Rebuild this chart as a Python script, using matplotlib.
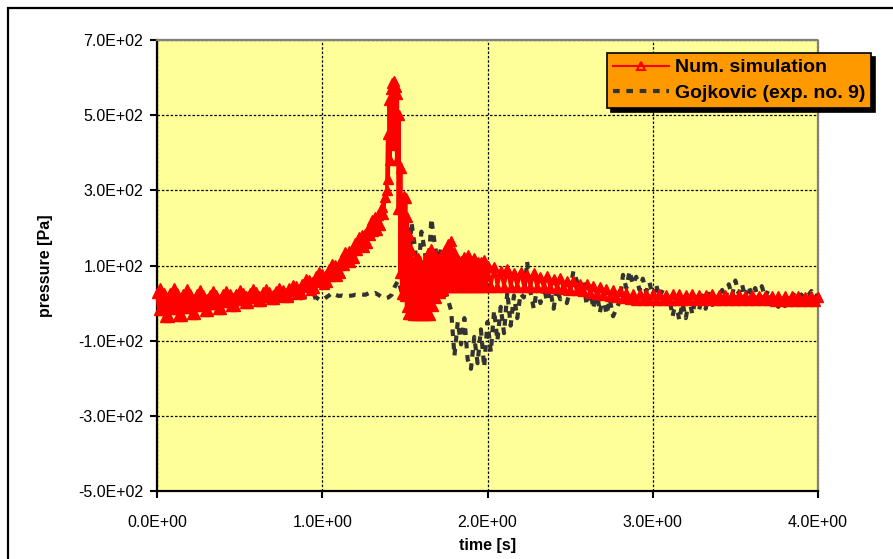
import numpy as np
import matplotlib
matplotlib.use("Agg")
import matplotlib.pyplot as plt
from matplotlib.lines import Line2D
from matplotlib.patches import Rectangle
from matplotlib.ticker import FuncFormatter

plt.rcParams['font.family'] = ['Liberation Sans', 'DejaVu Sans']

# --- Num. simulation in four pieces (start, step, values)
sim_a_start, sim_a_step = 0.00, 0.01
sim_a = [27, -18, 40, -18, 27, -36, 14, -36,
         27, -16, 40, -16, 27, -34, 14, -34,
         25, -13, 37, -13, 24, -28, 12, -28,
         23, -7, 34, -7, 22, -20, 11, -20,
         22, -3, 32, -3, 22, -15, 12, -15,
         23, 2, 33, 2, 24, -9, 14, -9,
         25, 7, 34, 7, 27, -1, 18, -1,
         28, 14, 37, 14, 29, 5, 20, 5,
         30, 20, 38, 20, 30, 10, 22, 10,
         31, 25, 39, 25, 34, 16, 26, 16,
         39, 31, 47, 32, 45, 25, 37, 27,
         52, 42, 63, 45, 61, 35, 57, 39,
         71, 55, 83, 58, 78, 50, 75, 56,
         90, 73, 104, 79, 102, 73, 101, 81,
         119, 101, 136, 111, 138, 109, 140, 119,
         159, 142, 177, 152, 181, 150, 183, 160,
         203, 182, 222, 193, 228, 195, 234, 209,
         256, 236, 281]

sim_b_start, sim_b_step = 1.39, 0.005
sim_b = [300, 450, 330, 540, 380, 570, 420, 585, 450, 590,
         430, 575, 380, 555, 250, 500, 80, 360, 25, 250,
         25, 285, 20, 280, -10, 230, -28, 180, -30]

sim_c_start, sim_c_step = 1.54, 0.01
sim_c = [142, -31, 117, -31, 121, -31, 102, -31, 112, -31,
         132, -31, 143, -9, 127, 13, 117, 26, 127, 36,
         142, 42, 157, 44, 164, 44, 137, 44, 114, 44,
         112, 44, 122, 44, 127, 44, 112, 44, 121, 44,
         110, 44, 108, 44, 114, 44, 100]

sim_d_start, sim_d_step = 2.02, 0.02
sim_d = [44, 95, 44, 86, 44, 90, 44, 80, 44, 84,
         44, 75, 44, 79, 43, 70, 42, 73, 41, 64,
         40, 66, 38, 58, 36, 60, 34, 52, 31, 52,
         28, 45, 25, 43, 22, 38, 19, 35, 16, 31,
         13, 28, 11, 25, 9, 24, 8, 24, 8, 23,
         8, 24, 9, 22, 8, 23, 9, 23, 8, 22,
         9, 23, 9, 22, 8, 22, 9, 23, 9, 21,
         9, 22, 8, 21, 9, 21, 8, 20, 8, 21,
         7, 20, 7, 19, 7, 20, 6, 19, 6, 18,
         6, 19, 5, 18, 5, 17, 5, 18, 5, 17]

# --- Gojkovic (exp. no. 9), step 0.02 s from 0
exp_start, exp_step = 0.0, 0.02
exp_p = [0, 2, -1, 1, 3, 0, 2, 4, 1, 3, 2, 4, 3, 1, 4, 3, 5, 2, 4, 6,
         3, 5, 4, 6, 5, 3, 6, 5, 7, 4, 6, 5, 7, 6, 4, 6, 5, 7,
         5, 6, 8, 9, 11, 12, 14, 15, 14, 13, 16, 10, 8, 14, 20, 27, 22, 19,
         20, 18, 19, 20, 22, 21, 23, 22, 26, 24, 27, 22, 16, 13, 15, 22, 45,
         60, 30, 95, 40, 215, 150, 70, 190, 140, 60, 225, 160, 100,
         150, 40, 10, -20, -140, -50, -110, -40, -150, -175, -90, -160, -70,
         -170, -50, -130, -20, -100, -10, -80, 30, -60, 20, -40, 25,
         15, 110, 30, -15, 40, 0, 45, 5, 35, -15, 40, 10, 50, 0, 35,
         85, 60, 15, 60, -5, 45, -15, 35, -25, 20, -30, 10, -35, -15, 5,
         75, 40, 85, 50, 70, 35, 65, 30, 55, 20, 50, 15, 35,
         -10, 15, -35, 5, -45, 0, -40, 10, -30, 15, -20, 20, -15, 25, -5, 20, 5,
         35, 10, 50, 20, 60, 25, 50, 15, 45, 20, 40, 10, 45, 15, 35, 5,
         0, -10, 8, -8, 12, 15, 28, 32, 18, 30, 20, 32, 12, 25]

x_ticks = [0, 1, 2, 3, 4]
y_ticks = [-500, -300, -100, 100, 300, 500, 700]


def times(start, step, vals):
    return start + step * np.arange(len(vals))


sim_t = np.concatenate([times(sim_a_start, sim_a_step, sim_a),
                        times(sim_b_start, sim_b_step, sim_b),
                        times(sim_c_start, sim_c_step, sim_c),
                        times(sim_d_start, sim_d_step, sim_d)])
sim_p = np.array(sim_a + sim_b + sim_c + sim_d, dtype=float)
exp_t = times(exp_start, exp_step, exp_p)

fig = plt.figure(figsize=(8.93, 5.59), dpi=100)
ax = fig.add_axes([157 / 893, 68 / 559, 661 / 893, 451 / 559])
ax.set_facecolor('#FFFF99')

exp_line, = ax.plot(exp_t, exp_p, color='#333333', lw=3,
                    linestyle=(0, (1.6, 1.6)), zorder=2, clip_on=False)
ax.plot(sim_t, sim_p, color='#FF0000', lw=2.4, marker='^', markersize=6.5,
        markerfacecolor='#FF0000', markeredgecolor='#FF0000',
        markeredgewidth=1.0, zorder=3, clip_on=False)

ax.set_xlim(0, 4)
ax.set_ylim(-500, 700)
ax.set_xticks(x_ticks)
ax.set_yticks(y_ticks)
fmt = FuncFormatter(lambda v, pos: f"{v:.1E}")
ax.xaxis.set_major_formatter(fmt)
ax.yaxis.set_major_formatter(fmt)
ax.tick_params(axis='both', direction='out', length=5, width=1.5,
               labelsize=11.5, colors='black')
ax.tick_params(axis='x', pad=12)
ax.tick_params(axis='y', pad=5)

ax.grid(True, color='black', lw=0.9, linestyle=(0, (2, 1.5)))
ax.set_axisbelow(True)

for s in ['left', 'bottom']:
    ax.spines[s].set_color('black')
    ax.spines[s].set_linewidth(1.6)
for s in ['top', 'right']:
    ax.spines[s].set_color('#808080')
    ax.spines[s].set_linewidth(1.6)
    ax.spines[s].set_linestyle((0, (1, 0.6)))

ax.set_xlabel('time [s]', fontsize=11.5, fontweight='bold', va='top')
ax.set_ylabel('pressure [Pa]', fontsize=11.5, fontweight='bold')
ax.xaxis.set_label_coords(0.5, -0.104)
ax.yaxis.set_label_coords(-0.157, 0.5)

# legend handle for the simulation: thin line with an open triangle
sim_handle = Line2D([], [], color='#FF0000', lw=1.5, marker='^', markersize=6,
                    markerfacecolor='none', markeredgecolor='#FF0000',
                    markeredgewidth=1.5)
leg = ax.legend([sim_handle, exp_line],
                ['Num. simulation', 'Gojkovic (exp. no. 9)'], loc='upper left',
                bbox_to_anchor=(607 / 893, 1 - 53 / 559),
                bbox_transform=fig.transFigure, borderaxespad=0,
                prop={'weight': 'bold', 'size': 14},
                handlelength=2.9, handletextpad=0.3, borderpad=0.3,
                labelspacing=0.4, fancybox=False, framealpha=1,
                facecolor='#FF9900', edgecolor='black',
                shadow={'color': 'black', 'alpha': 1, 'ox': 3, 'oy': -3})
leg.get_frame().set_linewidth(1.2)
leg.set_zorder(10)

fig.add_artist(Rectangle((8 / 893, -0.1), 1.2, 1.1 - 8 / 559, fill=False,
                         edgecolor='black', lw=1.6, transform=fig.transFigure))

fig.savefig('out.png', dpi=100)
